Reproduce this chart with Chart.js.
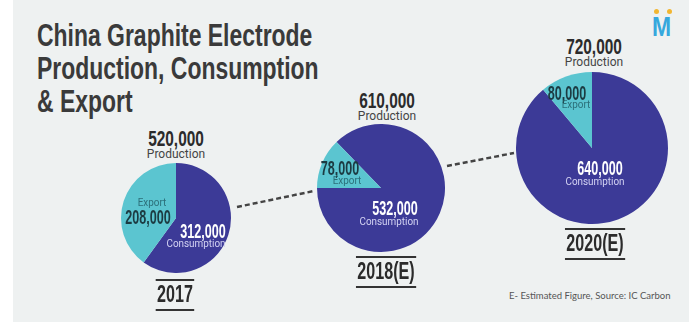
<!DOCTYPE html>
<html>
<head>
  <title>China Graphite Electrode</title>
  <script src="https://cdn.jsdelivr.net/npm/chart.js"></script>
  <style>
    body { margin: 0; background: #ffffff; }
    #stage {
      position: relative;
      width: 689px;
      height: 322px;
      overflow: hidden;
      background: #fff;
    }
    #panel {
      position: absolute;
      left: 13px; top: 0; right: 0; bottom: 0;
      background: #eef1f1;
    }
    h1 {
      position: absolute;
      left: 37px; top: 19px;
      margin: 0;
      font-family: 'Liberation Sans', Arial, sans-serif;
      font-weight: bold;
      font-size: 31px;
      line-height: 33px;
      color: #3a3a3a;
      transform-origin: 0 0;
      transform: scaleX(0.74);
      white-space: nowrap;
    }
    .pie { position: absolute; }
    .lbl {
      position: absolute;
      white-space: nowrap;
      line-height: 1;
    }
    .big { font-family: 'Liberation Sans', sans-serif; font-weight: bold; font-size: 22px; color: #2b2b2b; transform: translateX(-50%) scaleX(0.7); }
    .mid { font-family: 'Liberation Sans', sans-serif; font-weight: bold; font-size: 20px; transform: translateX(-50%) scaleX(0.63); }
    .prod { font-family: Roboto, sans-serif; font-size: 12px; color: #444; transform: translateX(-50%); }
    .small { font-family: Roboto, sans-serif; font-size: 11px; transform: translateX(-50%) scaleX(0.9); }
    .year {
      font-family: 'Liberation Sans', sans-serif; font-weight: bold; font-size: 23px; color: #2b2b2b;
      border-top: 2px solid #333; border-bottom: 2px solid #333; padding: 2px 2px 3px;
      transform: translateX(-50%) scaleX(0.7);
    }
    #source {
      position: absolute; left: 509px; top: 290px;
      font-family: Lato, sans-serif; font-size: 9.5px; color: #555;
    }
    #logo { position: absolute; left: 652px; top: 6px; width: 22px; height: 34px; }
    #logo .m { position: absolute; left: 0; top: 8px; font-family: 'Liberation Sans', sans-serif; font-weight: bold; font-size: 27px; line-height: 27px; color: #36a8dd; transform: scaleX(0.85); transform-origin: 0 0; }
    #logo .d { position: absolute; top: 3px; width: 5px; height: 5px; border-radius: 50%; background: #f2b631; }
  </style>
</head>
<body>
<div id="stage">
  <div id="panel"></div>
  <h1>China Graphite Electrode<br>Production, Consumption<br>&amp; Export</h1>
  <div id="logo"><div class="d" style="left:2px"></div><div class="d" style="left:15px"></div><div class="m">M</div></div>
  <svg id="links" width="689" height="322" style="position:absolute;left:0;top:0">
    <line x1="237" y1="207" x2="314" y2="191" stroke="#444" stroke-width="2.5" stroke-dasharray="5 3"/>
    <line x1="447" y1="166" x2="514" y2="153" stroke="#444" stroke-width="2.5" stroke-dasharray="5 3"/>
  </svg>
  <div id="source">E- Estimated Figure, Source: IC Carbon</div>
</div>

<script>
  // data
  const years = ["2017", "2018(E)", "2020(E)"];
  const production = [520000, 610000, 720000];
  const consumption = [312000, 532000, 640000];
  const exportVol = [208000, 78000, 80000];

  const consumptionColor = "#3c3a97";
  const exportColor = "#5bc5d0";

  // where each pie sits on the page and where its labels go
  const layout = [
    { cx: 176, cy: 218, r: 55, rot: 0,
      prod: [176, 128], exp: [152, 197], expNum: [148, 207], con: [203, 221], conTxt: [196, 238], year: [175, 279] },
    { cx: 381, cy: 188, r: 64, rot: 316,
      prod: [387, 90], exp: [347, 175], expNum: [340, 158], con: [395, 198], conTxt: [389, 216], year: [386, 256] },
    { cx: 592, cy: 148, r: 76, rot: 0,
      prod: [594, 36], exp: [576, 99], expNum: [567, 83], con: [600, 158], conTxt: [595, 176], year: [595, 228] }
  ];

  const fmt = n => n.toLocaleString("en-US");
  const stage = document.getElementById("stage");

  function label(text, pos, cls, color) {
    const d = document.createElement("div");
    d.className = "lbl " + cls;
    d.style.left = pos[0] + "px";
    d.style.top = pos[1] + "px";
    if (color) d.style.color = color;
    d.textContent = text;
    stage.appendChild(d);
  }

  years.forEach((yr, i) => {
    const L = layout[i];
    const box = document.createElement("div");
    box.className = "pie";
    box.style.left = (L.cx - L.r) + "px";
    box.style.top = (L.cy - L.r) + "px";
    box.style.width = box.style.height = (2 * L.r) + "px";
    const cv = document.createElement("canvas");
    box.appendChild(cv);
    stage.insertBefore(box, document.getElementById("source"));

    new Chart(cv, {
      type: "pie",
      data: {
        labels: ["Consumption", "Export"],
        datasets: [{
          data: [consumption[i], exportVol[i]],
          backgroundColor: [consumptionColor, exportColor],
          borderWidth: 0
        }]
      },
      options: {
        responsive: true,
        maintainAspectRatio: false,
        animation: false,
        rotation: L.rot,
        layout: { padding: 0 },
        plugins: { legend: { display: false }, tooltip: { enabled: false } }
      }
    });

    label(fmt(production[i]), L.prod, "big");
    label("Production", [L.prod[0], L.prod[1] + 20], "prod");
    label("Export", L.exp, "small", "#2c6f79");
    label(fmt(exportVol[i]), L.expNum, "mid", "#1c3b42");
    label(fmt(consumption[i]), L.con, "mid", "#ffffff");
    label("Consumption", L.conTxt, "small", "#d4d3f3");
    label(yr, L.year, "year");
  });
</script>
</body>
</html>
